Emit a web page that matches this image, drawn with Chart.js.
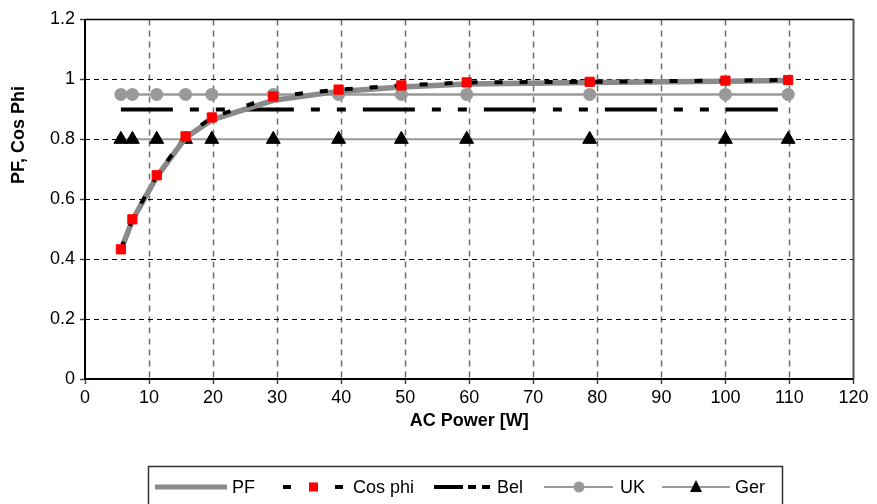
<!DOCTYPE html>
<html>
<head>
<meta charset="utf-8">
<script src="https://cdn.jsdelivr.net/npm/chart.js@4.4.1/dist/chart.umd.min.js"></script>
<style>
  html, body { margin: 0; padding: 0; background: #fff; }
</style>
</head>
<body>
<canvas id="grafico" width="877" height="504"></canvas>
<script>
// datos
const potencia = [5.6, 7.4, 11.2, 15.7, 19.8, 29.4, 39.6, 49.4, 59.6, 78.8, 100, 109.8];
const pf = [0.43, 0.53, 0.675, 0.805, 0.865, 0.93, 0.96, 0.975, 0.985, 0.99, 0.994, 0.996];
const cosPhi = [0.433, 0.533, 0.68, 0.81, 0.873, 0.943, 0.966, 0.98, 0.99, 0.992, 0.996, 0.998];
const bel = [0.9, 0.9, 0.9, 0.9, 0.9, 0.9, 0.9, 0.9, 0.9, 0.9, 0.9, 0.9];
const uk = [0.95, 0.95, 0.95, 0.95, 0.95, 0.95, 0.95, 0.95, 0.95, 0.95, 0.95, 0.95];
const ger = [0.8, 0.8, 0.8, 0.8, 0.8, 0.8, 0.8, 0.8, 0.8, 0.8, 0.8, 0.8];

const xTicks = [0, 10, 20, 30, 40, 50, 60, 70, 80, 90, 100, 110, 120];
const yTicks = [0, 0.2, 0.4, 0.6, 0.8, 1, 1.2];

const fuente = '"Liberation Sans", Arial, sans-serif';
Chart.defaults.font.family = fuente;
Chart.defaults.font.size = 18;
Chart.defaults.color = '#000';

const puntos = (ys) => potencia.map((x, i) => ({ x: x, y: ys[i] }));

// rejilla punteada y marco del area
const rejilla = {
    id: 'rejilla',
    beforeDatasetsDraw(chart) {
        const { ctx, chartArea: a, scales } = chart;
        ctx.save();
        ctx.lineWidth = 1.5;
        ctx.strokeStyle = '#6e6e6e';
        ctx.setLineDash([6, 5]);
        xTicks.slice(1, -1).forEach(v => {
            const px = Math.round(scales.x.getPixelForValue(v)) + 0.5;
            ctx.beginPath();
            ctx.moveTo(px, a.top);
            ctx.lineTo(px, a.bottom);
            ctx.stroke();
        });
        ctx.lineWidth = 1;
        ctx.strokeStyle = '#000';
        ctx.setLineDash([5, 4]);
        yTicks.slice(1, -1).forEach(v => {
            const py = Math.round(scales.y.getPixelForValue(v)) + 0.5;
            ctx.beginPath();
            ctx.moveTo(a.left, py);
            ctx.lineTo(a.right, py);
            ctx.stroke();
        });
        ctx.setLineDash([]);
        ctx.lineWidth = 1.5;
        ctx.strokeStyle = '#000';
        ctx.beginPath();
        ctx.moveTo(a.left, a.top);
        ctx.lineTo(a.right, a.top);
        ctx.stroke();
        ctx.lineWidth = 2;
        ctx.strokeStyle = '#555';
        ctx.beginPath();
        ctx.moveTo(a.right, a.top);
        ctx.lineTo(a.right, a.bottom);
        ctx.stroke();
        ctx.restore();
    }
};

// titulos de ejes y leyenda con caja
const extras = {
    id: 'extras',
    afterDraw(chart) {
        const { ctx, chartArea: a } = chart;
        ctx.save();
        ctx.fillStyle = '#000';
        ctx.font = 'bold 18px ' + fuente;
        ctx.textAlign = 'center';
        ctx.textBaseline = 'middle';
        ctx.fillText('AC Power [W]', (a.left + a.right) / 2, 421);
        ctx.translate(19, 135);
        ctx.rotate(-Math.PI / 2);
        ctx.fillText('PF, Cos Phi', 0, 0);
        ctx.restore();

        // leyenda
        const ly = 487;
        ctx.save();
        ctx.strokeStyle = '#333';
        ctx.lineWidth = 1.5;
        ctx.strokeRect(148.5, 466.5, 634, 50);
        ctx.font = '18px ' + fuente;
        ctx.fillStyle = '#000';
        ctx.textAlign = 'left';
        ctx.textBaseline = 'middle';

        // PF
        ctx.strokeStyle = '#8a8a8a';
        ctx.lineWidth = 5;
        ctx.beginPath(); ctx.moveTo(155, ly); ctx.lineTo(227, ly); ctx.stroke();
        ctx.fillText('PF', 232, ly + 1);

        // Cos phi
        ctx.fillStyle = '#000';
        ctx.fillRect(283, ly - 2, 8, 4);
        ctx.fillRect(335, ly - 2, 8, 4);
        ctx.fillStyle = '#ff0000';
        ctx.fillRect(309, ly - 4.5, 9, 9);
        ctx.fillStyle = '#000';
        ctx.fillText('Cos phi', 353, ly + 1);

        // Bel
        ctx.fillRect(434, ly - 2, 29, 4);
        ctx.fillRect(468, ly - 2, 8, 4);
        ctx.fillRect(482, ly - 2, 8, 4);
        ctx.fillText('Bel', 497, ly + 1);

        // UK
        ctx.strokeStyle = '#999';
        ctx.lineWidth = 2;
        ctx.beginPath(); ctx.moveTo(544, ly); ctx.lineTo(613, ly); ctx.stroke();
        ctx.fillStyle = '#999';
        ctx.beginPath(); ctx.arc(579, ly, 5.5, 0, Math.PI * 2); ctx.fill();
        ctx.fillStyle = '#000';
        ctx.fillText('UK', 620, ly + 1);

        // Ger
        ctx.beginPath(); ctx.moveTo(662, ly); ctx.lineTo(730, ly); ctx.stroke();
        ctx.beginPath();
        ctx.moveTo(696, ly - 7); ctx.lineTo(702, ly + 5); ctx.lineTo(690, ly + 5);
        ctx.closePath(); ctx.fill();
        ctx.fillText('Ger', 735, ly + 1);
        ctx.restore();
    }
};

new Chart(document.getElementById('grafico'), {
    type: 'scatter',
    data: {
        datasets: [
            {
                label: 'Cos phi',
                data: puntos(cosPhi),
                showLine: true,
                borderColor: '#000',
                borderWidth: 4,
                borderDash: [8, 17],
                pointStyle: 'rect',
                pointRadius: 6.5,
                pointBackgroundColor: '#ff0000',
                pointBorderColor: '#ff0000',
                pointBorderWidth: 1,
                order: 1
            },
            {
                label: 'PF',
                data: puntos(pf),
                showLine: true,
                borderColor: '#8a8a8a',
                borderWidth: 5.5,
                pointRadius: 0,
                order: 2
            },
            {
                label: 'UK',
                data: puntos(uk),
                showLine: true,
                borderColor: '#999',
                borderWidth: 2.5,
                pointStyle: 'circle',
                pointRadius: 6.5,
                pointBackgroundColor: '#999',
                pointBorderColor: '#999',
                pointBorderWidth: 0,
                order: 3
            },
            {
                label: 'Bel',
                data: puntos(bel),
                showLine: true,
                borderColor: '#000',
                borderWidth: 4,
                borderDash: [52, 17, 9, 17, 9, 17],
                borderCapStyle: 'butt',
                pointRadius: 0,
                order: 4
            },
            {
                label: 'Ger',
                data: puntos(ger),
                showLine: true,
                borderColor: '#999',
                borderWidth: 2,
                pointStyle: 'triangle',
                pointRadius: 8,
                pointBackgroundColor: '#000',
                pointBorderColor: '#000',
                pointBorderWidth: 1,
                order: 5
            }
        ]
    },
    options: {
        responsive: false,
        animation: false,
        layout: { padding: { left: 0, top: 19.5, right: 23.5, bottom: 65 } },
        plugins: {
            legend: { display: false },
            tooltip: { enabled: false }
        },
        scales: {
            x: {
                type: 'linear',
                min: 0,
                max: 120,
                afterBuildTicks: (s) => { s.ticks = xTicks.map(v => ({ value: v })); },
                afterFit: (s) => { s.height = 60; },
                ticks: { padding: 3, maxRotation: 0, autoSkip: false },
                grid: { drawOnChartArea: false, drawTicks: true, tickLength: 5, tickColor: '#444', tickWidth: 1.5 },
                border: { display: true, color: '#000', width: 2 }
            },
            y: {
                type: 'linear',
                min: 0,
                max: 1.2,
                afterBuildTicks: (s) => { s.ticks = yTicks.map(v => ({ value: v })); },
                afterFit: (s) => { s.width = 85; },
                ticks: { padding: 5, autoSkip: false, callback: (v) => String(Math.round(v * 10) / 10) },
                grid: { drawOnChartArea: false, drawTicks: true, tickLength: 5, tickColor: '#444', tickWidth: 1.5 },
                border: { display: true, color: '#000', width: 2 }
            }
        }
    },
    plugins: [rejilla, extras]
});
</script>
</body>
</html>
